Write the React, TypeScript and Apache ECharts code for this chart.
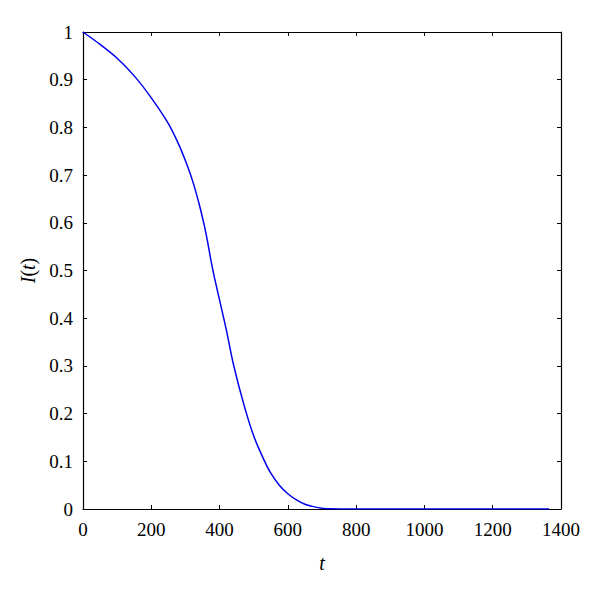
import React, { useEffect, useRef } from "react";
import * as echarts from "echarts";

const tValues = [0, 50, 100, 150, 200, 250, 280, 300, 320, 340, 355, 365, 375, 385, 400, 420, 440, 470, 500, 530, 550, 575, 600, 625, 650, 675, 700, 725, 750, 800, 900, 1000, 1100, 1200, 1300, 1365];
const iValues = [1.0, 0.974, 0.945, 0.908, 0.862, 0.808, 0.765, 0.73, 0.69, 0.64, 0.595, 0.56, 0.52, 0.485, 0.438, 0.375, 0.305, 0.222, 0.153, 0.103, 0.075, 0.05, 0.032, 0.019, 0.01, 0.005, 0.0015, 0.0003, 0, 0, 0, 0, 0, 0, 0, 0];

const FONT = "'Liberation Serif', serif";

export default function App() {
  const ref = useRef<HTMLDivElement>(null);
  useEffect(() => {
    document.body.style.margin = "0";
    const chart = echarts.init(ref.current!, null, { renderer: "svg" });
    const data = tValues.map((t, i) => [t, iValues[i]]);
    const axisLine = { show: true, onZero: false, lineStyle: { color: "#000", width: 1.2 } };
    const tick = { show: true, inside: true, length: 4, lineStyle: { color: "#000", width: 1 } };
    chart.setOption({
      animation: false,
      backgroundColor: "#fff",
      grid: { left: 83, top: 32, right: 39, bottom: 81, containLabel: false },
      xAxis: [
        {
          type: "value",
          min: 0,
          max: 1400,
          interval: 200,
          axisLine,
          axisTick: tick,
          splitLine: { show: false },
          axisLabel: { color: "#000", fontFamily: FONT, fontSize: 19, margin: 11, formatter: (v: number) => String(v) },
          name: "t",
          nameLocation: "middle",
          nameGap: 44,
          nameTextStyle: { color: "#000", fontFamily: FONT, fontSize: 20, fontStyle: "italic" },
        },
        {
          type: "value",
          position: "top",
          min: 0,
          max: 1400,
          interval: 200,
          axisLine,
          axisTick: tick,
          splitLine: { show: false },
          axisLabel: { show: false },
        },
      ],
      yAxis: [
        {
          type: "value",
          min: 0,
          max: 1,
          interval: 0.1,
          axisLine,
          axisTick: tick,
          splitLine: { show: false },
          axisLabel: { color: "#000", fontFamily: FONT, fontSize: 19, margin: 10, formatter: (v: number) => String(Math.round(v * 10) / 10) },
          name: "{i|I}({i|t})",
          nameLocation: "middle",
          nameGap: 44,
          nameRotate: 90,
          nameTextStyle: {
            color: "#000",
            fontFamily: FONT,
            fontSize: 20,
            rich: {
              i: { fontFamily: FONT, fontSize: 20, fontStyle: "italic", color: "#000" },
            },
          },
        },
        {
          type: "value",
          position: "right",
          min: 0,
          max: 1,
          interval: 0.1,
          axisLine,
          axisTick: tick,
          splitLine: { show: false },
          axisLabel: { show: false },
        },
      ],
      series: [
        {
          type: "line",
          data,
          showSymbol: false,
          smooth: 0.2,
          lineStyle: { color: "#0000ee", width: 1.5 },
          xAxisIndex: 0,
          yAxisIndex: 0,
        },
      ],
    });
    return () => chart.dispose();
  }, []);
  return <div ref={ref} style={{ width: 600, height: 590 }} />;
}
